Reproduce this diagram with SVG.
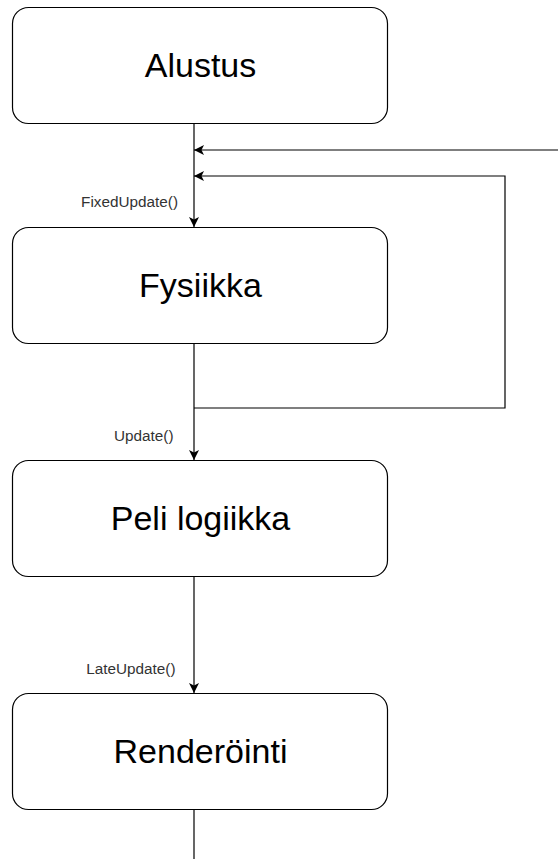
<svg xmlns="http://www.w3.org/2000/svg" width="558" height="859" viewBox="0 0 558 859">
<style>
.box{fill:#fff;stroke:#000;stroke-width:1.2}
.big{font-family:"Liberation Sans",Arial,sans-serif;font-size:34px;fill:#000;text-anchor:middle;dominant-baseline:central}
.lbl{font-family:"Liberation Sans",Arial,sans-serif;font-size:15.3px;fill:#333;text-anchor:end;dominant-baseline:central}
.ln{fill:none;stroke:#000;stroke-width:1.2}
</style>
<defs>
<marker id="ah" viewBox="0 0 10 10" refX="10" refY="5" markerWidth="10" markerHeight="10" markerUnits="userSpaceOnUse" orient="auto">
<path d="M0,0 L10,5 L0,10 L2.5,5 Z" fill="#000"/>
</marker>
</defs>
<rect width="558" height="859" fill="#fff"/>
<g id="connectors">
<path class="ln" d="M194,123 V227" marker-end="url(#ah)"/>
<path class="ln" d="M558,150 H194" marker-end="url(#ah)"/>
<path class="ln" d="M194,408 H505 V176 H194" marker-end="url(#ah)"/>
<path class="ln" d="M194,344 V460" marker-end="url(#ah)"/>
<path class="ln" d="M194,577 V693" marker-end="url(#ah)"/>
<path class="ln" d="M194,810 V859"/>
<text class="lbl" x="178" y="201">FixedUpdate()</text>
<text class="lbl" x="173.5" y="435">Update()</text>
<text class="lbl" x="175.5" y="668">LateUpdate()</text>
</g>
<g id="alustus">
<rect class="box" x="12.5" y="7.5" width="375" height="116" rx="16"/>
<text class="big" x="200.5" y="65">Alustus</text>
</g>
<g id="fysiikka">
<rect class="box" x="12.5" y="227.5" width="375" height="116" rx="16"/>
<text class="big" x="200.5" y="285">Fysiikka</text>
</g>
<g id="peli-logiikka">
<rect class="box" x="12.5" y="460.5" width="375" height="116" rx="16"/>
<text class="big" x="200.5" y="518">Peli logiikka</text>
</g>
<g id="renderointi">
<rect class="box" x="12.5" y="693.5" width="375" height="116" rx="16"/>
<text class="big" x="200.5" y="751">Renderöinti</text>
</g>
</svg>
